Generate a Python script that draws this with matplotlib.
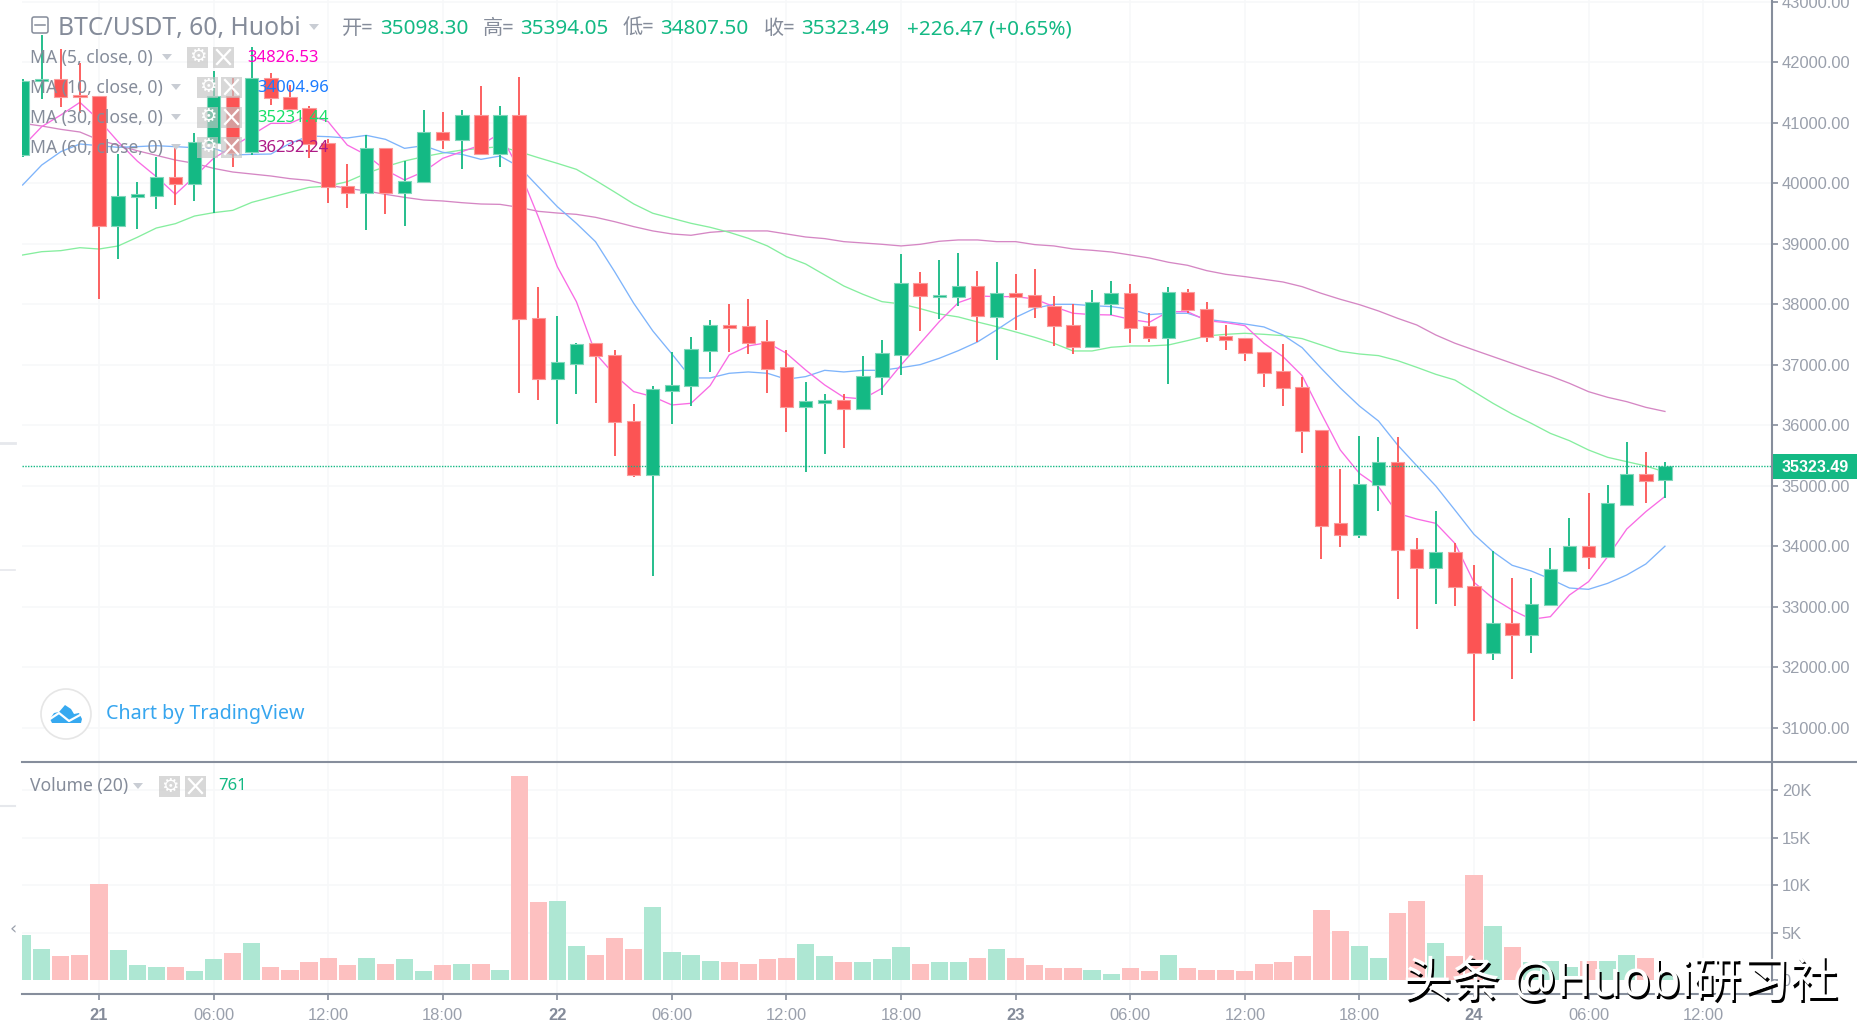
import matplotlib
matplotlib.use('Agg')
import matplotlib.pyplot as plt
from matplotlib.patches import Circle, FancyBboxPatch, Polygon, Rectangle

W, H = 1858, 1036

# candles start 4 hours before the "21" tick, one per hour
first_index = -4
opens = [40465, 41694, 41727, 41463, 41452, 39303, 39771, 39799, 40113, 39997, 40664, 41452, 40515, 41749, 41430,
         41253, 40664, 39964, 39848, 40581, 39848, 40019, 40857, 40713, 41132, 40487, 41132, 37782, 36769, 37022,
         37358, 37166, 36075, 35182, 36571, 36648, 37237, 37662, 37640, 37392, 36968, 36301, 36378, 36422, 36273,
         36797, 37166, 38356, 38130, 38130, 38306, 37789, 38185, 38158, 37981, 37662, 37293, 38009, 38185, 37640,
         37441, 38207, 37932, 37485, 37441, 37215, 36896, 36642, 35926, 34388, 34195, 35011, 35402, 33964, 33650,
         33914, 33347, 32234, 32730, 32531, 33027, 33600, 34014, 33821, 34686, 35204, 35098.30]
highs = [41720, 42455, 42217, 41997, 41452, 40487, 40019, 40443, 40581, 40829, 41859, 41749, 42262, 41821, 41628,
         41281, 40730, 40322, 40801, 40581, 40372, 41215, 41187, 41215, 41611, 41281, 41755, 38283, 37810, 37358,
         37358, 37250, 36350, 36653, 37215, 37463, 37744, 38014, 38092, 37744, 37248, 36725, 36521, 36521, 37149,
         37414, 38835, 38538, 38736, 38857, 38554, 38703, 38505, 38582, 38136, 38009, 38240, 38384, 38334, 37860,
         38284, 38257, 38036, 37662, 37441, 37215, 37342, 36808, 35926, 35281, 35826, 35804, 35804, 34135, 34587,
         34052, 33694, 33926, 33474, 33474, 33970, 34465, 34884, 35011, 35727, 35556, 35394.05]
lows = [40440, 41391, 41259, 41160, 38085, 38757, 39253, 39573, 39650, 39716, 39518, 40267, 40471, 41300, 41200,
        40416, 39672, 39600, 39226, 39501, 39303, 40019, 40565, 40245, 40487, 40267, 36531, 36422, 36030, 36521,
        36377, 35502, 35155, 33518, 36025, 36323, 36890, 37215, 37188, 36543, 35899, 35232, 35529, 35629, 36273,
        36499, 36841, 37563, 37766, 37981, 37381, 37089, 37579, 37783, 37320, 37188, 37293, 37827, 37370, 37386,
        36692, 37855, 37386, 37243, 37072, 36642, 36330, 35551, 33793, 33997, 34146, 34587, 33127, 32631, 33049,
        33022, 31121, 32129, 31815, 32234, 33027, 33600, 33622, 33821, 34686, 34713, 34807.50]
closes = [41700, 41727, 41435, 41430, 39303, 39793, 39821, 40113, 39997, 40680, 41452, 40509, 41749, 41407, 41231,
          40647, 39947, 39848, 40581, 39848, 40041, 40857, 40713, 41132, 40487, 41132, 37760, 36774, 37044, 37341,
          37148, 36053, 35182, 36598, 36670, 37265, 37662, 37612, 37359, 36940, 36301, 36400, 36422, 36273, 36819,
          37193, 38356, 38136, 38158, 38306, 37811, 38185, 38130, 37959, 37640, 37293, 38036, 38185, 37612, 37441,
          38207, 37910, 37469, 37419, 37193, 36874, 36626, 35909, 34339, 34195, 35033, 35402, 33947, 33650, 33914,
          33330, 32234, 32730, 32531, 33049, 33622, 34014, 33821, 34713, 35204, 35088, 35323.49]
volumes = [4756, 3287, 2518, 2658, 10141, 3147, 1574, 1399, 1399, 944, 2203, 2833, 3917, 1399, 1084,
           1888, 2343, 1574, 2343, 1714, 2203, 944, 1574, 1714, 1714, 1084, 21506, 8218, 8358, 3602,
           2658, 4406, 3287, 7728, 2972, 2658, 2028, 1888, 1714, 2203, 2343, 3777, 2518, 1888, 1888,
           2203, 3462, 1714, 1888, 1888, 2343, 3287, 2343, 1574, 1259, 1259, 1084, 629, 1259, 944,
           2658, 1259, 1084, 1084, 944, 1714, 1888, 2518, 7413, 5175, 3602, 2343, 7099, 8358, 3917,
           2518, 11085, 5665, 3462, 1900, 2028, 1399, 2028, 2028, 2658, 2343, 761]
ma5 = [40609, 40939, 41132, 41341, 41049, 40691, 40372, 40113, 39821, 40113, 40416, 40609, 40801, 40994, 40994,
       41132, 41022, 40636, 40471, 40223, 40058, 40195, 40416, 40526, 40636, 40829, 40223, 39452, 38625, 38046,
       37192, 36835, 36560, 36477, 36339, 36367, 36659, 37166, 37315, 37370, 37193, 36918, 36670, 36466, 36439,
       36615, 37001, 37359, 37717, 38031, 38141, 38130, 38130, 38091, 37965, 37855, 37833, 37827, 37755, 37706,
       37882, 37882, 37733, 37700, 37651, 37359, 37138, 36824, 36201, 35595, 35209, 34989, 34548, 34454, 34383,
       34052, 33408, 33143, 32950, 32796, 32840, 33198, 33419, 33832, 34289, 34576, 34826.53]
ma10 = [39975, 40305, 40526, 40653, 40625, 40598, 40609, 40625, 40609, 40592, 40581, 40471, 40482, 40487, 40664,
        40785, 40774, 40752, 40796, 40730, 40581, 40625, 40515, 40482, 40399, 40454, 40278, 39947, 39617, 39341,
        39038, 38543, 38020, 37563, 37182, 36786, 36786, 36863, 36885, 36863, 36764, 36808, 36912, 36885, 36912,
        36912, 36956, 37006, 37111, 37237, 37381, 37579, 37788, 37937, 38003, 38003, 37981, 37965, 37921, 37833,
        37855, 37855, 37755, 37717, 37678, 37629, 37496, 37287, 36945, 36620, 36322, 36074, 35678, 35336, 35000,
        34603, 34201, 33914, 33689, 33595, 33463, 33314, 33292, 33391, 33529, 33711, 34004.96]
ma30 = [38818, 38873, 38890, 38939, 38917, 38967, 39110, 39264, 39336, 39462, 39518, 39556, 39688, 39771, 39854,
        39936, 39958, 40030, 40168, 40278, 40372, 40443, 40504, 40553, 40581, 40609, 40526, 40427, 40333, 40234,
        40052, 39859, 39662, 39508, 39425, 39342, 39276, 39193, 39094, 38968, 38791, 38670, 38488, 38306, 38169,
        38047, 38009, 37932, 37844, 37794, 37711, 37634, 37546, 37458, 37359, 37232, 37232, 37293, 37315, 37315,
        37331, 37403, 37480, 37507, 37524, 37507, 37485, 37436, 37331, 37226, 37182, 37155, 37072, 36962, 36846,
        36752, 36559, 36366, 36190, 36036, 35870, 35749, 35595, 35474, 35402, 35331, 35231.44]
ma60 = [40994, 40950, 40895, 40851, 40719, 40631, 40542, 40465, 40388, 40333, 40250, 40190, 40157, 40124, 40080,
        40052, 39975, 39920, 39876, 39821, 39771, 39727, 39711, 39683, 39661, 39655, 39606, 39540, 39512, 39490,
        39441, 39369, 39287, 39216, 39166, 39144, 39193, 39216, 39216, 39216, 39166, 39116, 39089, 39039, 39017,
        38995, 38968, 38995, 39045, 39067, 39067, 39039, 39039, 38990, 38968, 38918, 38896, 38868, 38819, 38769,
        38698, 38648, 38560, 38499, 38461, 38417, 38372, 38295, 38185, 38086, 37998, 37893, 37772, 37662, 37496,
        37360, 37248, 37138, 37028, 36917, 36818, 36697, 36559, 36466, 36394, 36300, 36232.24]

price_ticks = [31000, 32000, 33000, 34000, 35000, 36000, 37000, 38000, 39000, 40000, 41000, 42000, 43000]
vol_ticks = [0, 5000, 10000, 15000, 20000]
vol_tick_labels = ['0', '5K', '10K', '15K', '20K']
time_ticks = [0, 6, 12, 18, 24, 30, 36, 42, 48, 54, 60, 66, 72, 78, 84]
time_labels = ['21', '06:00', '12:00', '18:00', '22', '06:00', '12:00', '18:00', '23', '06:00', '12:00', '18:00',
               '24', '06:00', '12:00']
last_price = 35323.49

GREEN = '#14b984'
RED = '#fc5454'
AXIS = '#868e9c'
LABEL = '#9aa0ac'
GRID = '#f7f8f9'
TEXT = '#858c9a'
UI = ['Noto Sans', 'Noto Sans CJK SC', 'DejaVu Sans']

plt.rcParams['font.family'] = ['Liberation Sans', 'DejaVu Sans']

fig = plt.figure(figsize=(W / 100, H / 100), dpi=100)
xs = [first_index + n for n in range(len(closes))]


def axes_px(left, top, right, bottom):
    return fig.add_axes([left / W, 1 - bottom / H, (right - left) / W, (bottom - top) / H])


px_x = lambda p: (p - 99) / 19.097

# price pane
ax = axes_px(22, 0, 1772, 762)
ax.set_xlim(px_x(22), px_x(1772))
ax.set_ylim(30438, 43033)
for y in price_ticks:
    ax.axhline(y, color=GRID, lw=1.2, zorder=0)
for x in time_ticks:
    ax.axvline(x, color=GRID, lw=1.2, zorder=0)

for ma, col in [(ma60, '#d587c4'), (ma30, '#86ee9f'), (ma10, '#7eb4fb'), (ma5, '#f96be4')]:
    ax.plot(xs, ma, color=col, lw=0.95, zorder=2)

for i, o, h, l, c in zip(xs, opens, highs, lows, closes):
    up = c >= o
    col = GREEN if up else RED
    edge = '#7fd6ba' if up else '#fb9a9a'
    ax.vlines(i, l, h, color=col, lw=1.3, zorder=3)
    ax.bar(i, max(abs(c - o), 30), bottom=min(o, c), width=0.7, color=col, edgecolor=edge, linewidth=0.8, zorder=4)

ax.axhline(last_price, color=GREEN, lw=1.0, ls=(0, (1, 1)), zorder=5)

ax.set_xticks([])
ax.yaxis.tick_right()
ax.set_yticks(price_ticks)
ax.set_yticklabels(['%d.00' % p for p in price_ticks], va='center_baseline')
ax.tick_params(axis='y', length=4, width=1.2, color=AXIS, labelcolor=LABEL, labelsize=11.9, pad=3)
for name, s in ax.spines.items():
    s.set_visible(False)

# volume pane
vx = axes_px(22, 762, 1772, 993)
vx.set_xlim(px_x(22), px_x(1772))
vx.set_ylim(-1334, 22931)
for y in vol_ticks[1:]:
    vx.axhline(y, color=GRID, lw=1.2, zorder=0)
for x in time_ticks:
    vx.axvline(x, color=GRID, lw=1.2, zorder=0)
for i, o, c, v in zip(xs, opens, closes, volumes):
    vx.bar(i, v, width=0.9, color='#aee7d3' if c >= o else '#fdc0c0', zorder=2)
vx.yaxis.tick_right()
vx.set_yticks(vol_ticks)
vx.set_yticklabels(vol_tick_labels, va='center_baseline')
vx.set_xticks(time_ticks)
vx.set_xticklabels(time_labels)
vx.tick_params(axis='y', length=4, width=1.2, color=AXIS, labelcolor=LABEL, labelsize=11.9, pad=3)
vx.tick_params(axis='x', length=5, width=1.2, color=AXIS, labelcolor=LABEL, labelsize=11.9, pad=5.5)
for tick, lab in zip(vx.get_xticklabels(), time_labels):
    if ':' not in lab:
        tick.set_fontweight('bold')
        tick.set_color(TEXT)
for name, s in vx.spines.items():
    s.set_visible(False)

# everything else sits on a pixel overlay
ov = fig.add_axes([0, 0, 1, 1], zorder=10)
ov.set_xlim(0, W)
ov.set_ylim(H, 0)
ov.axis('off')
ov.patch.set_alpha(0)

ov.plot([1772, 1772], [0, 994], color=AXIS, lw=1.5)
ov.plot([22, 1858], [762, 762], color=AXIS, lw=1.5)
ov.plot([22, 1772], [994, 994], color=AXIS, lw=1.5)
ov.add_patch(Rectangle((1772, 454), 86, 25, color=GREEN, lw=0))
ov.text(1815, 467, '35323.49', color='white', fontsize=11.5, fontweight='bold', ha='center', va='center')

# left edge stubs and scroll arrow
for y, lw in [(443, 2), (570, 1.2), (806, 1.5)]:
    ov.plot([0, 15], [y, y], color='#e6e8ec', lw=lw)
ov.text(13, 929, '‹', color='#9aa0ac', fontsize=13, ha='center', va='center', family='DejaVu Sans')


def tri(x, y, col='#c9cdd4'):
    ov.add_patch(Polygon([(x - 5, y - 3), (x + 5, y - 3), (x, y + 3)], color=col, lw=0))


def icons(x1, x2, y, w=21, h=21):
    for left in (x1, x2):
        ov.add_patch(Rectangle((left, y - h / 2), w, h, color='#c4c4c4', alpha=0.65, lw=0))
    ov.text(x1 + w / 2, y, '⚙', color='white', fontsize=14, ha='center', va='center', family='DejaVu Sans')
    ov.plot([x2 + 4, x2 + w - 4], [y - 7, y + 7], color='white', lw=1.6)
    ov.plot([x2 + 4, x2 + w - 4], [y + 7, y - 7], color='white', lw=1.6)


# header
ov.add_patch(FancyBboxPatch((32, 17), 16, 16, boxstyle='round,pad=0,rounding_size=2', fc='none', ec=TEXT, lw=1.1))
ov.plot([35, 45], [25, 25], color=TEXT, lw=1.1)
ov.text(58, 29, 'BTC/USDT, 60, Huobi', color=TEXT, fontsize=17.8, family=UI, ha='left', va='center')
tri(314, 27)
for x, s in [(342, '开='), (483, '高='), (623, '低='), (764, '收=')]:
    ov.text(x, 29, s, color=TEXT, fontsize=14.5, family=UI, ha='left', va='center')
for x, s in [(380, '35098.30'), (520, '35394.05'), (660, '34807.50'), (801, '35323.49'), (907, '+226.47 (+0.65%)')]:
    ov.text(x, 29, s, color=GREEN, fontsize=14.9, family=UI, ha='left', va='center')

# indicator legends
rows = [('MA (5, close, 0)', 57, 167, 187, 213, '34826.53', 247, '#ff00c8'),
        ('MA (10, close, 0)', 87, 176, 197, 221, '34004.96', 257, '#1a7bff'),
        ('MA (30, close, 0)', 117, 176, 197, 221, '35231.44', 257, '#18e068'),
        ('MA (60, close, 0)', 147, 176, 197, 221, '36232.24', 257, '#ad1a86')]
for label, y, tx, g1, g2, val, vx_px, col in rows:
    ov.text(30, y + 1, label, color=TEXT, fontsize=12.6, family=UI, ha='left', va='center')
    tri(tx, y)
    icons(g1, g2, y)
    ov.text(vx_px, y + 1, val, color=col, fontsize=12, family=UI, ha='left', va='center')

ov.text(30, 786, 'Volume (20)', color=TEXT, fontsize=12.6, family=UI, ha='left', va='center')
tri(138, 786)
icons(159, 185, 786)
ov.text(218, 786, '761', color=GREEN, fontsize=12, family=UI, ha='left', va='center')

# logo
ov.add_patch(Circle((66, 714), 25, fc='white', ec='#e6e6e6', lw=1.2))
ov.add_patch(Polygon([(50, 719), (54, 713), (59, 712), (65, 705), (71, 709), (74, 714), (79, 713), (82, 719),
                      (81, 723), (52, 723)], color='#36a9f0', lw=0))
ov.plot([50, 59, 69, 80], [719, 713, 721, 715], color='white', lw=1.6)
ov.text(106, 714, 'Chart by TradingView', color='#37a6ef', fontsize=14.2, family=UI, ha='left', va='center')

# watermark
wm = '头条 @Huobi研习社'
ov.text(1405, 986, wm, color='black', fontsize=34.8, family=UI, ha='left', va='center')
ov.text(1403, 983, wm, color='white', fontsize=34.8, family=UI, ha='left', va='center')

fig.savefig('out.png', dpi=100)
